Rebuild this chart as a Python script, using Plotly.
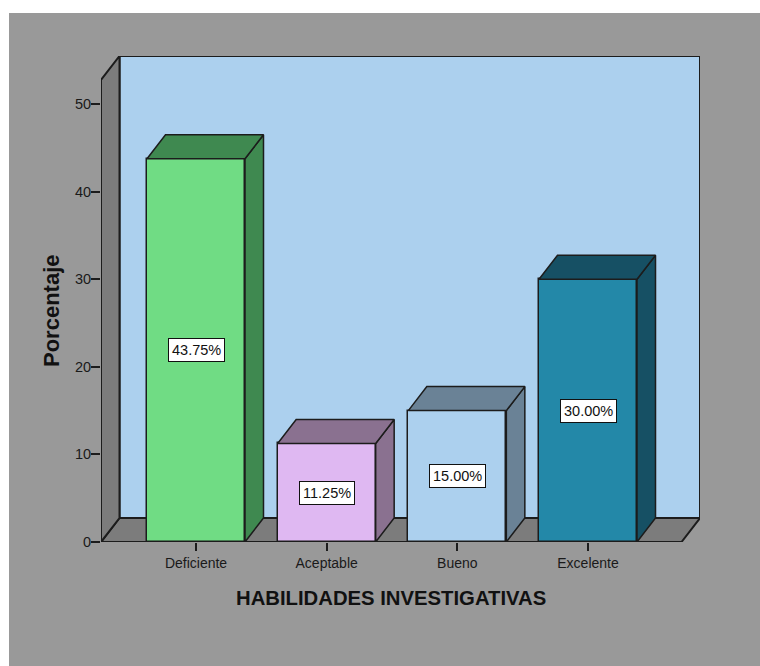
import plotly.graph_objects as go

# ---- data ----
categories = ["Deficiente", "Aceptable", "Bueno", "Excelente"]
values = [43.75, 11.25, 15.00, 30.00]
front_colors = ["#70dc84", "#dfb8f2", "#acd0ee", "#2388a8"]
side_colors = ["#3f8950", "#8a7190", "#6a8296", "#165064"]
y_ticks = [0, 10, 20, 30, 40, 50]
x_title = "HABILIDADES INVESTIGATIVAS"
y_title = "Porcentaje"

# ---- geometry (layout constants) ----
W, H = 760, 666
ML, MR, MT, MB = 101, 60, 56, 124
plot_w = W - ML - MR
plot_h = H - MT - MB
x_range = [-0.727, 3.857]
y_range = [0, 55.48]
px_x = plot_w / (x_range[1] - x_range[0])
px_y = plot_h / (y_range[1] - y_range[0])
ddx = 18.5 / px_x          # depth offset in data units (x)
ddy = 24.0 / px_y          # depth offset in data units (y)
bar_w = 98 / px_x

OUT = "#1c1c1c"
WALL = "#acd0ee"
GRAYWALL = "#7c7c7c"
BG = "#999999"
FONT = "Liberation Sans, Arial, sans-serif"

x0, x1 = x_range
y0, y1 = y_range
yf_top = y1 - ddy

def path(pts):
    return "M " + " L ".join(f"{a},{b}" for a, b in pts) + " Z"

def paper_x(px):
    return (px - ML) / plot_w

def paper_y(py):
    return (H - MB - py) / plot_h

shapes = [
    # white strips at top and left of the image
    dict(type="rect", xref="paper", yref="paper", layer="above",
         x0=paper_x(-5), x1=paper_x(W + 5), y0=paper_y(13), y1=paper_y(-5),
         fillcolor="white", line=dict(width=0)),
    dict(type="rect", xref="paper", yref="paper", layer="above",
         x0=paper_x(-5), x1=paper_x(9), y0=paper_y(H + 5), y1=paper_y(-5),
         fillcolor="white", line=dict(width=0)),
    # back wall
    dict(type="path", xref="x", yref="y", layer="below",
         path=path([(x0 + ddx, ddy), (x0 + ddx, y1), (x1, y1), (x1, ddy)]),
         fillcolor=WALL, line=dict(color=OUT, width=2)),
    # floor
    dict(type="path", xref="x", yref="y", layer="below",
         path=path([(x0, 0), (x1 - ddx, 0), (x1, ddy), (x0 + ddx, ddy)]),
         fillcolor=GRAYWALL, line=dict(color=OUT, width=2)),
    # left wall
    dict(type="path", xref="x", yref="y", layer="below",
         path=path([(x0, 0), (x0, yf_top), (x0 + ddx, y1), (x0 + ddx, ddy)]),
         fillcolor=GRAYWALL, line=dict(color=OUT, width=2)),
]

fig = go.Figure()

# front faces
fig.add_trace(go.Bar(
    x=list(range(len(categories))), y=values, width=bar_w,
    marker=dict(color=front_colors, line=dict(color=OUT, width=1.5)),
    hoverinfo="skip", showlegend=False,
))

# side and top faces
for i, v in enumerate(values):
    xl, xr = i - bar_w / 2, i + bar_w / 2
    side = [(xr, 0), (xr, v), (xr + ddx, v + ddy), (xr + ddx, ddy), (xr, 0)]
    top = [(xl, v), (xr, v), (xr + ddx, v + ddy), (xl + ddx, v + ddy), (xl, v)]
    for pts in (side, top):
        fig.add_trace(go.Scatter(
            x=[p[0] for p in pts], y=[p[1] for p in pts],
            mode="lines", fill="toself", fillcolor=side_colors[i],
            line=dict(color=OUT, width=1.5), hoverinfo="skip", showlegend=False,
        ))

annotations = []
for i, v in enumerate(values):
    annotations.append(dict(
        x=i, y=v / 2, xref="x", yref="y", text=f"{v:.2f}%", showarrow=False,
        bgcolor="white", bordercolor="#111", borderwidth=1, borderpad=3,
        font=dict(family=FONT, size=14.5, color="#111"),
    ))

# axis titles
annotations.append(dict(
    x=paper_x(391), y=paper_y(598), xref="paper", yref="paper",
    text=f"<b>{x_title}</b>", showarrow=False, xanchor="center", yanchor="middle",
    font=dict(family=FONT, size=20.3, color="#111"),
))
annotations.append(dict(
    x=paper_x(51), y=paper_y(311), xref="paper", yref="paper",
    text=f"<b>{y_title}</b>", showarrow=False, textangle=-90,
    xanchor="center", yanchor="middle",
    font=dict(family=FONT, size=22, color="#111"),
))

fig.update_layout(
    width=W, height=H,
    margin=dict(l=ML, r=MR, t=MT, b=MB),
    paper_bgcolor=BG, plot_bgcolor="rgba(0,0,0,0)",
    shapes=shapes, annotations=annotations,
    font=dict(family=FONT, color="#1a1a1a"),
    xaxis=dict(
        range=x_range, tickmode="array", tickvals=list(range(len(categories))),
        ticktext=categories, ticks="outside", ticklen=8, tickwidth=1.5, tickcolor=OUT,
        showgrid=False, zeroline=False, showline=False,
        tickfont=dict(size=14, family=FONT, color="#1a1a1a"),
        fixedrange=True,
    ),
    yaxis=dict(
        range=y_range, tickmode="array", tickvals=y_ticks,
        ticks="outside", ticklen=9, tickwidth=1.5, tickcolor=OUT,
        ticklabelstandoff=-3,
        showgrid=False, zeroline=False, showline=False,
        tickfont=dict(size=14.5, family=FONT, color="#1a1a1a"),
        fixedrange=True,
    ),
    bargap=0,
)

fig.write_html("out.html")
